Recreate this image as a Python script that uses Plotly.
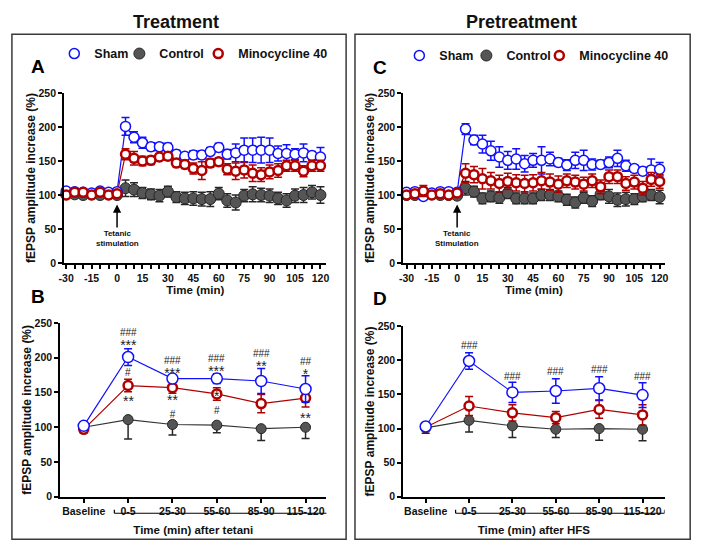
import plotly.graph_objects as go

# ---------------- data ----------------
time_min = list(range(-30, 125, 5))

# Panel A (Treatment, time course)
a_sham = [106, 105, 104, 103, 106, 104, 105,
          201, 185, 177, 171, 171, 170, 160, 157, 159, 159, 164, 170,
          160, 162, 166, 166, 166, 166, 161, 161, 160, 162, 158, 156]
a_sham_err = [4, 4, 4, 4, 4, 4, 4,
              13, 8, 8, 6, 6, 6, 6, 5, 6, 6, 6, 6,
              7, 13, 18, 18, 19, 18, 11, 13, 8, 13, 6, 14]
a_ctrl = [101, 101, 100, 101, 100, 101, 100,
          110, 108, 103, 101, 99, 105, 97, 95, 95, 94, 94, 102,
          92, 89, 99, 101, 100, 99, 95, 92, 99, 100, 104, 100]
a_ctrl_err = [3, 3, 3, 3, 3, 3, 3,
              12, 10, 8, 8, 9, 8, 8, 9, 10, 10, 11, 9,
              10, 11, 9, 11, 10, 10, 9, 10, 10, 11, 10, 12]
a_mino = [100, 104, 104, 100, 104, 100, 102,
          160, 154, 150, 151, 156, 157, 147, 145, 139, 136, 147, 149,
          138, 135, 137, 132, 130, 134, 136, 143, 143, 135, 143, 143]
a_mino_err = [3, 3, 3, 3, 3, 3, 3,
              8, 10, 7, 6, 5, 6, 5, 6, 8, 13, 6, 6,
              8, 12, 12, 12, 10, 10, 10, 8, 8, 8, 8, 8]

# Panel C (Pretreatment, time course)
c_sham = [104, 105, 98, 103, 105, 105, 104,
          197, 181, 175, 165, 156, 151, 153, 146, 151, 151, 153, 148,
          144, 151, 151, 145, 145, 148, 154, 143, 139, 135, 137, 138]
c_sham_err = [4, 4, 4, 4, 4, 4, 4,
              8, 7, 13, 14, 15, 13, 15, 12, 10, 20, 10, 6,
              8, 12, 15, 8, 6, 8, 12, 8, 5, 6, 16, 10]
c_ctrl = [100, 100, 100, 101, 100, 100, 99,
          110, 105, 95, 98, 96, 103, 95, 95, 95, 100, 100, 98,
          93, 89, 96, 91, 101, 98, 93, 94, 94, 98, 100, 97]
c_ctrl_err = [3, 3, 3, 3, 3, 3, 3,
              10, 8, 8, 8, 8, 8, 8, 8, 8, 8, 8, 8,
              8, 8, 8, 8, 8, 10, 10, 10, 8, 8, 8, 10]
c_mino = [100, 102, 106, 100, 102, 100, 103,
          132, 130, 124, 121, 117, 120, 118, 117, 118, 121, 119, 116,
          121, 119, 116, 121, 112, 127, 127, 117, 119, 110, 123, 120]
c_mino_err = [3, 3, 8, 3, 3, 3, 3,
              14, 12, 15, 12, 12, 12, 12, 12, 12, 12, 12, 12,
              10, 10, 10, 10, 10, 10, 10, 10, 10, 10, 10, 10]

# Panels B and D (summary)
cats = ["Baseline", "0-5", "25-30", "55-60", "85-90", "115-120"]
b_sham = [102, 201, 170, 170, 166.5, 155]
b_sham_err = [4, 12, 4, 7, 18, 19]
b_mino = [97, 160, 157, 148, 134, 142]
b_mino_err = [4, 9, 8, 9, 13, 13]
b_ctrl = [100, 111, 104, 103, 98, 100]
b_ctrl_err = [8, 28, 15, 11, 17, 16]

d_sham = [103, 199, 153, 155, 159, 149]
d_sham_err = [4, 12, 15, 18, 17, 18]
d_mino = [102, 133, 123, 116, 128, 120]
d_mino_err = [4, 14, 12, 9, 13, 15]
d_ctrl = [101, 112, 104, 99, 100, 99]
d_ctrl_err = [8, 17, 17, 12, 17, 17]

# significance labels (category, stacked text, value level of the stack centre)
b_sig_cat = ["0-5", "0-5", "0-5", "25-30", "25-30", "55-60", "55-60",
             "85-90", "115-120", "115-120"]
b_sig_text = ["###<br>***", "#", "**", "###<br>***", "**<br>#", "###<br>***", "*<br>#",
              "###<br>**", "##<br>*", "**"]
b_sig_y = [229.6, 178.3, 142.1, 189.5, 131.5, 192.3, 136.5, 198.7, 187.7, 118.2]
d_sig_cat = ["0-5", "25-30", "55-60", "85-90", "115-120"]
d_sig_text = ["###", "###", "###", "###", "###"]
d_sig_y = [222, 176, 183, 186, 176]

y_ticks = [0, 50, 100, 150, 200, 250]

# ---------------- styling ----------------
W, H = 706, 552
FONT = "Liberation Sans, Arial, sans-serif"
BLUE = "#1010ff"
RED = "#b00000"
GRAY_FILL = "#555555"
GRAY_LINE = "#262626"
DARK = "#111111"


def px(x):
    return x / W


def py(y):
    return 1 - y / H


fig = go.Figure()

styles = {
    "Sham": dict(marker=dict(symbol="circle", size=10, color="white",
                             line=dict(color=BLUE, width=1.5)),
                 line=dict(color=BLUE, width=1.2), err=BLUE),
    "Control": dict(marker=dict(symbol="circle", size=11, color=GRAY_FILL,
                                line=dict(color=GRAY_LINE, width=1)),
                    line=dict(color="#333333", width=1.2), err=GRAY_LINE),
    "Minocycline 40": dict(marker=dict(symbol="circle", size=9, color="white",
                                       line=dict(color=RED, width=2.5)),
                           line=dict(color=RED, width=1.2), err=RED),
}


def add_panel(xa, ya, x, series, legends=None, down_only=(), msize=None):
    for name, y, e in series:
        st = styles[name]
        fig.add_trace(go.Scatter(x=x, y=y, mode="lines", line=st["line"],
                                 xaxis=xa, yaxis=ya, showlegend=False,
                                 hoverinfo="skip"))
    for name, y, e in series:
        st = styles[name]
        if name in down_only:
            err = dict(type="data", symmetric=False, array=[0] * len(e),
                       arrayminus=e, color=st["err"], thickness=1.5, width=4)
        else:
            err = dict(type="data", array=e, color=st["err"], thickness=1.5, width=4)
        mk = dict(st["marker"])
        if msize and name in msize:
            mk["size"] = msize[name]
        if legends:
            kw = dict(showlegend=True, legend=legends[name])
        else:
            kw = dict(showlegend=False)
        fig.add_trace(go.Scatter(x=x, y=y, mode="markers", name=name, marker=mk,
                                 error_y=err, xaxis=xa, yaxis=ya, cliponaxis=False,
                                 **kw))


add_panel("x", "y", time_min,
          [("Control", a_ctrl, a_ctrl_err), ("Sham", a_sham, a_sham_err),
           ("Minocycline 40", a_mino, a_mino_err)],
          legends={"Sham": "legend", "Control": "legend2", "Minocycline 40": "legend3"})
add_panel("x3", "y3", time_min,
          [("Control", c_ctrl, c_ctrl_err), ("Sham", c_sham, c_sham_err),
           ("Minocycline 40", c_mino, c_mino_err)],
          legends={"Sham": "legend4", "Control": "legend5", "Minocycline 40": "legend6"})
add_panel("x2", "y2", cats,
          [("Control", b_ctrl, b_ctrl_err), ("Minocycline 40", b_mino, b_mino_err),
           ("Sham", b_sham, b_sham_err)],
          down_only=("Control",), msize={"Sham": 11, "Control": 10, "Minocycline 40": 9})
add_panel("x4", "y4", cats,
          [("Control", d_ctrl, d_ctrl_err), ("Minocycline 40", d_mino, d_mino_err),
           ("Sham", d_sham, d_sham_err)],
          down_only=("Control",), msize={"Sham": 11, "Control": 10, "Minocycline 40": 9})

tickfont = dict(family=FONT, size=10.5, color=DARK, weight="bold")
titlefont = dict(family=FONT, size=12, color=DARK, weight="bold")
xtitlefont = dict(family=FONT, size=11.5, color=DARK, weight="bold")

common_axis = dict(showline=True, linewidth=2, linecolor="black", ticks="outside",
                   ticklen=4, tickwidth=1.5, tickcolor="black", showgrid=False,
                   zeroline=False, tickfont=tickfont, fixedrange=True)

time_ticktext = [str(t) if t % 15 == 0 else "" for t in time_min]
ytitle = "fEPSP amplitude increase (%)"

layout = dict(
    width=W, height=H, margin=dict(l=0, r=0, t=0, b=0),
    paper_bgcolor="white", plot_bgcolor="white",
    font=dict(family=FONT, color=DARK),
    xaxis=dict(common_axis, domain=[px(59), px(325)], range=[-31.2, 123.5],
               tickvals=time_min, ticktext=time_ticktext, anchor="y",
               title=dict(text="Time (min)", font=xtitlefont, standoff=0)),
    yaxis=dict(common_axis, domain=[py(262.7), py(89)], range=[0, 250],
               tickvals=y_ticks, anchor="x",
               title=dict(text=ytitle, font=titlefont, standoff=0)),
    xaxis3=dict(common_axis, domain=[px(403), px(668)], range=[-31.9, 122.9],
                tickvals=time_min, ticktext=time_ticktext, anchor="y3",
                title=dict(text="Time (min)", font=xtitlefont, standoff=0)),
    yaxis3=dict(common_axis, domain=[py(262.7), py(89)], range=[0, 250],
                tickvals=y_ticks, anchor="x3",
                title=dict(text=ytitle, font=titlefont, standoff=0)),
    xaxis2=dict(common_axis, type="category", categoryorder="array", categoryarray=cats,
                domain=[px(55), px(325)], range=[-0.53, 5.47], anchor="y2",
                title=dict(text="Time (min) after tetani", font=xtitlefont, standoff=10)),
    yaxis2=dict(common_axis, domain=[py(501.7), py(324)], range=[0, 250],
                tickvals=y_ticks, anchor="x2",
                title=dict(text=ytitle, font=titlefont, standoff=0)),
    xaxis4=dict(common_axis, type="category", categoryorder="array", categoryarray=cats,
                domain=[px(403), px(668)], range=[-0.516, 5.507], anchor="y4",
                title=dict(text="Time (min) after HFS", font=xtitlefont, standoff=10)),
    yaxis4=dict(common_axis, domain=[py(501.7), py(327.3)], range=[0, 250],
                tickvals=y_ticks, anchor="x4",
                title=dict(text=ytitle, font=titlefont, standoff=0)),
)

legfont = dict(family=FONT, size=12.5, color=DARK, weight="bold")
leg_positions = {"legend": (77, 49), "legend2": (143, 49), "legend3": (223, 49),
                 "legend4": (427, 51), "legend5": (495, 51), "legend6": (569, 51)}
for key, (mx, my) in leg_positions.items():
    layout[key] = dict(x=px(mx - 28), y=py(my), xanchor="left", yanchor="middle",
                       bgcolor="rgba(0,0,0,0)", font=legfont, itemwidth=30,
                       orientation="h", borderwidth=0)

fig.update_layout(**layout)

# frames
shapes = [
    dict(type="rect", xref="paper", yref="paper", x0=px(6), x1=px(345), y0=py(545), y1=py(29),
         line=dict(color="#3a3a3a", width=1.5)),
    dict(type="rect", xref="paper", yref="paper", x0=px(354), x1=px(694), y0=py(545), y1=py(29),
         line=dict(color="#3a3a3a", width=1.5)),
]
for xr, x0, x1 in [("x2", 0.69, 5.51), ("x4", 0.69, 5.507)]:
    shapes.append(dict(type="line", xref=xr, yref="paper", x0=x0, x1=x1, y0=py(518.5), y1=py(518.5),
                       line=dict(color="black", width=1.2)))
    for xx in (x0, x1):
        shapes.append(dict(type="line", xref=xr, yref="paper", x0=xx, x1=xx, y0=py(518.5), y1=py(515),
                           line=dict(color="black", width=1.2)))
fig.update_layout(shapes=shapes)

ann = []
for txt, tx in [("Treatment", 172), ("Pretreatment", 523)]:
    ann.append(dict(text=txt, x=px(tx), y=py(16), xref="paper", yref="paper",
                    xanchor="center", yanchor="middle", showarrow=False,
                    font=dict(family=FONT, size=18, color=DARK, weight="bold")))
for letter, lx, ly in [("A", 32, 62), ("B", 32, 297), ("C", 379, 63), ("D", 379, 299)]:
    ann.append(dict(text=letter, x=px(lx), y=py(ly), xref="paper", yref="paper",
                    xanchor="center", yanchor="middle", showarrow=False,
                    font=dict(family=FONT, size=19, color="black", weight="bold")))

for xr, yr, label in [("x", "y", "Tetanic<br>stimulation"), ("x3", "y3", "Tetanic<br>Stimulation")]:
    ann.append(dict(text=label, x=0, y=86, xref=xr, yref=yr, showarrow=True, ax=0, ay=34,
                    arrowhead=2, arrowsize=1.1, arrowwidth=1.5, arrowcolor="black",
                    font=dict(family=FONT, size=8, color=DARK, weight="bold")))


def sig_markup(t):
    lines = t.split("<br>")
    out = []
    for ln in lines:
        size = 14 if ln.startswith("*") else 10
        out.append('<span style="font-size:%dpx">%s</span>' % (size, ln))
    if len(lines) == 1:
        base = 14 if lines[0].startswith("*") else 10
        shift = -3.3 if lines[0].startswith("*") else 0
    elif lines[0].startswith("*"):
        base, shift = 10, -0.5
    else:
        base, shift = 10.5, -2.8
    return "<br>".join(out), base, shift


for xr, yr, cs, ts, ys in [("x2", "y2", b_sig_cat, b_sig_text, b_sig_y),
                           ("x4", "y4", d_sig_cat, d_sig_text, d_sig_y)]:
    for c, t, yv in zip(cs, ts, ys):
        markup, base, shift = sig_markup(t)
        ann.append(dict(text=markup, x=c, y=yv, xref=xr, yref=yr, showarrow=False,
                        xanchor="center", yanchor="middle", yshift=shift,
                        font=dict(family=FONT, size=base, color="#222222")))

fig.update_layout(annotations=ann)

fig.write_html("out.html", config={"displayModeBar": False},
               post_script="document.body.style.margin='0px';")
